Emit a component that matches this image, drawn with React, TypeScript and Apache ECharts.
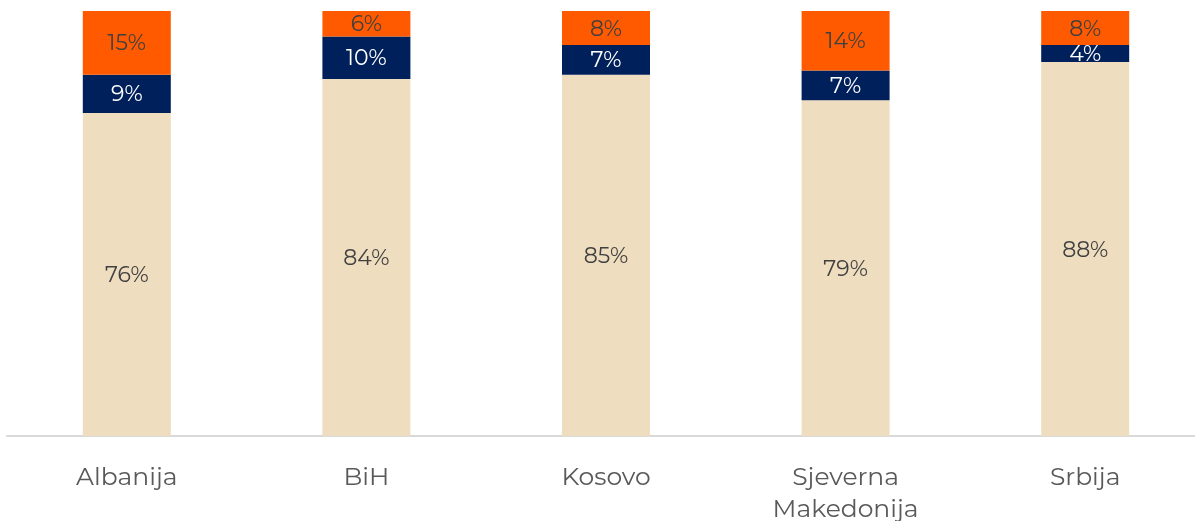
import React, { useEffect, useRef } from "react";
import * as echarts from "echarts";

const categories = ["Albanija", "BiH", "Kosovo", "Sjeverna\nMakedonija", "Srbija"];
const beigeValues = [76, 84, 85, 79, 88];
const navyValues = [9, 10, 7, 7, 4];
const orangeValues = [15, 6, 8, 14, 8];

export default function App() {
  const ref = useRef<HTMLDivElement>(null);
  useEffect(() => {
    const chart = echarts.init(ref.current!, undefined, { renderer: "svg" });
    const font = "Montserrat, 'Open Sans', 'Noto Sans', sans-serif";
    const label = (color: string) => ({
      show: true,
      position: "inside" as const,
      formatter: "{c}%",
      color,
      fontSize: 22,
      fontFamily: font,
    });
    chart.setOption({
      animation: false,
      grid: { left: 7, top: 11, width: 1198, height: 425, containLabel: false, outerBoundsMode: "none" },
      xAxis: {
        type: "category",
        data: categories,
        axisLine: { lineStyle: { color: "#d9d9d9", width: 2 } },
        axisTick: { show: false },
        axisLabel: {
          color: "#595959",
          fontSize: 25,
          fontFamily: font,
          margin: 24,
          lineHeight: 32,
          interval: 0,
        },
      },
      yAxis: { type: "value", min: 0, max: 100, show: false, splitLine: { show: false } },
      series: [
        { type: "bar", stack: "s", data: beigeValues, barWidth: 88, itemStyle: { color: "#EFDDBF" }, label: label("#404040") },
        { type: "bar", stack: "s", data: navyValues, barWidth: 88, itemStyle: { color: "#00205B" }, label: label("#ffffff") },
        { type: "bar", stack: "s", data: orangeValues, barWidth: 88, itemStyle: { color: "#FF5A00" }, label: label("#404040") },
      ],
    });
    return () => chart.dispose();
  }, []);
  return <div ref={ref} style={{ position: "fixed", left: 0, top: 0, width: 1195, height: 521 }} />;
}
